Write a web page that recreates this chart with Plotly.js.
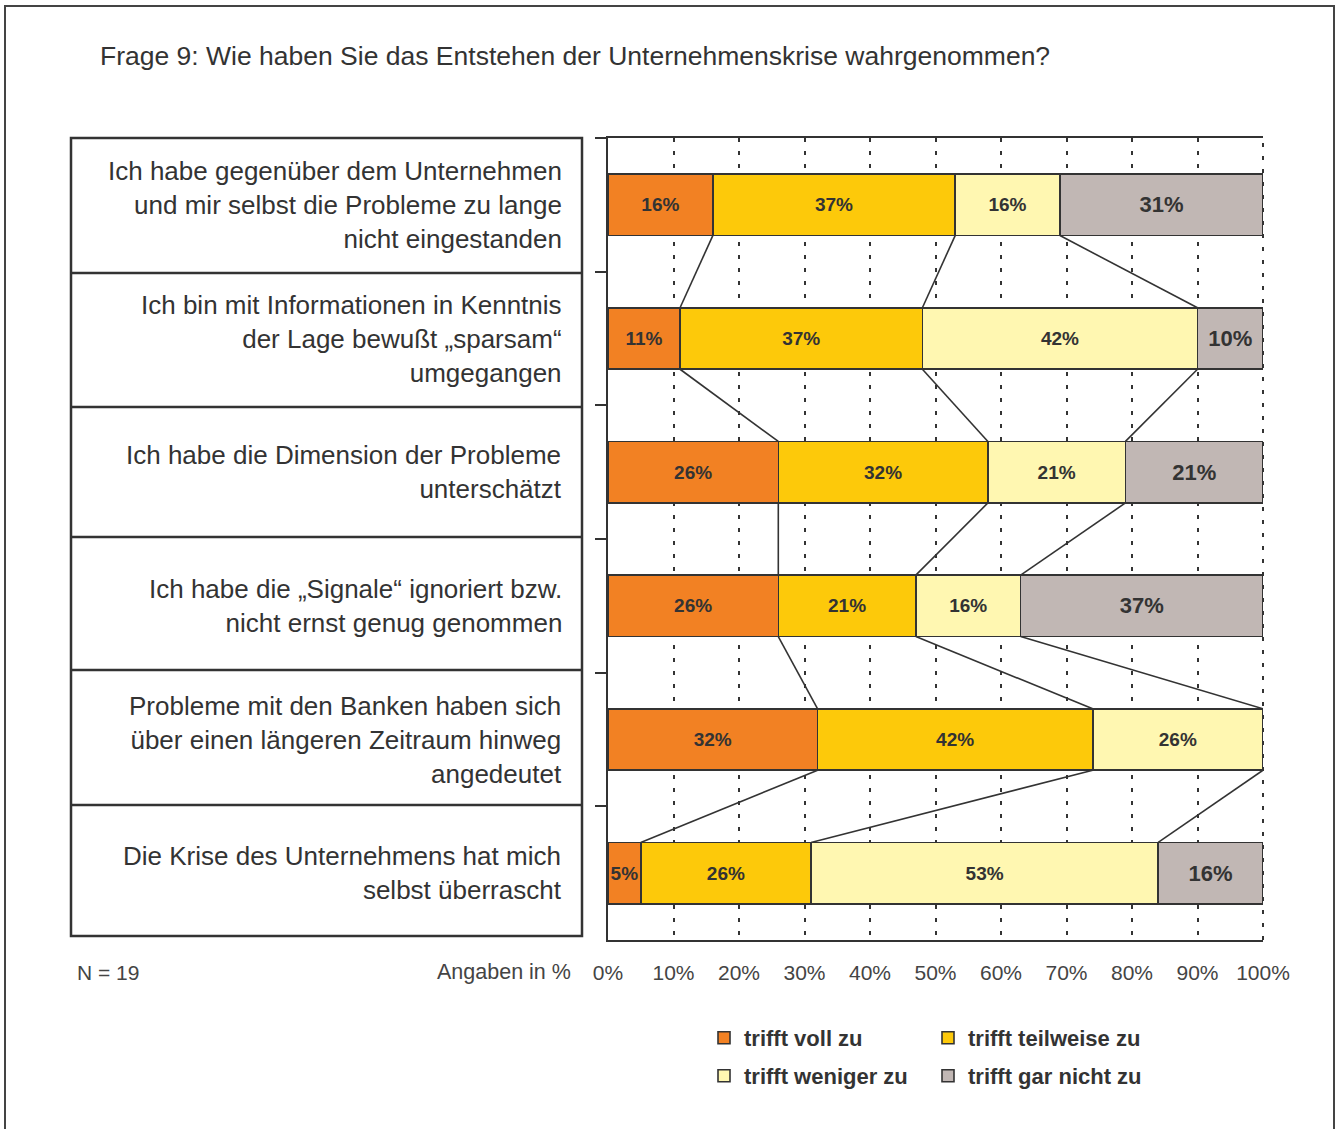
<!DOCTYPE html>
<html>
<head>
<meta charset="utf-8">
<script src="https://cdn.plot.ly/plotly-3.0.1.min.js"></script>
<style>html,body{margin:0;padding:0;background:#fff;}#chart{width:1337px;height:1129px;}</style>
</head>
<body>
<div id="chart"></div>
<script>
const categories = [
  "Ich habe gegenüber dem Unternehmen<br>und mir selbst die Probleme zu lange<br>nicht eingestanden",
  "Ich bin mit Informationen in Kenntnis<br>der Lage bewußt „sparsam“<br>umgegangen",
  "Ich habe die Dimension der Probleme<br>unterschätzt",
  "Ich habe die „Signale“ ignoriert bzw.<br>nicht ernst genug genommen",
  "Probleme mit den Banken haben sich<br>über einen längeren Zeitraum hinweg<br>angedeutet",
  "Die Krise des Unternehmens hat mich<br>selbst überrascht"
];
const seriesNames = ["trifft voll zu", "trifft teilweise zu", "trifft weniger zu", "trifft gar nicht zu"];
const trifftVollZu      = [16, 11, 26, 26, 32, 5];
const trifftTeilweiseZu = [37, 37, 32, 21, 42, 26];
const trifftWenigerZu   = [16, 42, 21, 16, 26, 53];
const trifftGarNichtZu  = [31, 10, 21, 37, null, 16];
const xTickVals = [0, 10, 20, 30, 40, 50, 60, 70, 80, 90, 100];
const titleText = "Frage 9: Wie haben Sie das Entstehen der Unternehmenskrise wahrgenommen?";
const noteN = "N = 19";
const noteUnit = "Angaben in %";

const series = [trifftVollZu, trifftTeilweiseZu, trifftWenigerZu, trifftGarNichtZu];
const colors = ["#F28123", "#FDC90A", "#FFF7B1", "#C1B7B4"];
const ink = "#333333";
const sans = "'Liberation Sans', Arial, Helvetica, sans-serif";

// plot area in pixels
const W = 1337, H = 1129;
const L = 608, R = 1263, T = 138, B = 940;
const px = x => (x - L) / (R - L);
const py = y => (B - y) / (B - T);

const barWidth = 0.46;

const traces = series.map((vals, k) => ({
  type: "bar",
  orientation: "h",
  name: seriesNames[k],
  y: categories,
  x: vals,
  width: barWidth,
  marker: {color: colors[k], line: {color: ink, width: 1.6}},
  text: vals.map(v => v == null ? "" : v + "%"),
  textposition: "inside",
  insidetextanchor: "middle",
  textangle: 0,
  constraintext: "none",
  textfont: k === 3
    ? {family: sans, size: 22, color: ink, weight: 700}
    : {family: sans, size: 19, color: ink, weight: 700},
  hoverinfo: "skip",
  legend: k < 2 ? "legend" : "legend2",
  showlegend: true
}));

// series lines between cumulative boundaries of successive bars
const cum = categories.map((_, i) => {
  let s = 0;
  return series.map(vals => (s += (vals[i] || 0)));
});
const shapes = [];
for (let i = 0; i < categories.length - 1; i++) {
  for (let k = 0; k < 3; k++) {
    shapes.push({
      type: "line", xref: "x", yref: "y", layer: "above",
      x0: cum[i][k], y0: i + barWidth / 2,
      x1: cum[i + 1][k], y1: i + 1 - barWidth / 2,
      line: {color: ink, width: 1.6}
    });
  }
}
// right edge dashed gridline at 100%
shapes.push({type: "line", xref: "paper", yref: "paper", layer: "above",
  x0: 1, x1: 1, y0: 0, y1: 1, line: {color: ink, width: 2, dash: "4px,9px"}});

// left label table
const rowEdges = [138, 273, 407, 537, 670, 805, 936];
shapes.push({type: "rect", xref: "paper", yref: "paper",
  x0: px(71), x1: px(582), y0: py(rowEdges[0]), y1: py(rowEdges[rowEdges.length - 1]),
  line: {color: ink, width: 2.5}});
for (let r = 1; r < rowEdges.length - 1; r++) {
  shapes.push({type: "line", xref: "paper", yref: "paper",
    x0: px(71), x1: px(582), y0: py(rowEdges[r]), y1: py(rowEdges[r]),
    line: {color: ink, width: 2.5}});
}
// outer frame
shapes.push({type: "rect", xref: "paper", yref: "paper",
  x0: px(5), x1: px(1334), y0: py(6), y1: py(1160),
  line: {color: "#444444", width: 2}});

const annotations = categories.map(c => ({
  xref: "paper", yref: "y", x: px(564), y: c,
  xanchor: "right", yanchor: "middle", align: "right",
  text: c, showarrow: false,
  font: {family: sans, size: 26, color: ink}
}));
annotations.push({xref: "paper", yref: "paper", x: px(75), y: py(972),
  xanchor: "left", yanchor: "middle", text: noteN, showarrow: false,
  font: {family: sans, size: 21, color: "#444"}});
annotations.push({xref: "paper", yref: "paper", x: px(573), y: py(972),
  xanchor: "right", yanchor: "middle", text: noteUnit, showarrow: false,
  font: {family: sans, size: 21.5, color: "#444"}});

const legendFont = {family: sans, size: 22, color: ink, weight: 700};
const layout = {
  width: W, height: H,
  paper_bgcolor: "#ffffff", plot_bgcolor: "#ffffff",
  margin: {l: L, r: W - R, t: T, b: H - B, pad: 0},
  barmode: "stack",
  title: {text: titleText, x: 100 / W, xanchor: "left", xref: "container",
    y: 1 - 56 / H, yanchor: "middle", font: {family: sans, size: 26.5, color: ink}},
  xaxis: {
    range: [0, 100], tickvals: xTickVals, ticktext: xTickVals.map(v => v + "%"),
    showgrid: true, gridcolor: ink, gridwidth: 2, griddash: "4px,9px",
    zeroline: false, showline: true, linecolor: ink, linewidth: 2, mirror: true,
    ticks: "", ticklabelstandoff: 13,
    tickfont: {family: sans, size: 21, color: "#444"}, fixedrange: true
  },
  yaxis: {
    type: "category", categoryorder: "array", categoryarray: categories,
    range: [categories.length - 0.5, -0.5],
    showticklabels: false, showgrid: false, zeroline: false,
    showline: true, linecolor: ink, linewidth: 2,
    ticks: "outside", tickson: "boundaries", ticklen: 11, tickwidth: 2, tickcolor: ink,
    fixedrange: true
  },
  legend: {orientation: "h", x: px(704), xanchor: "left", y: py(1017), yanchor: "top",
    entrywidth: 179, entrywidthmode: "pixels", traceorder: "normal",
    font: legendFont, bgcolor: "rgba(0,0,0,0)"},
  legend2: {orientation: "h", x: px(704), xanchor: "left", y: py(1055), yanchor: "top",
    entrywidth: 179, entrywidthmode: "pixels", traceorder: "normal",
    font: legendFont, bgcolor: "rgba(0,0,0,0)"},
  shapes: shapes,
  annotations: annotations,
  font: {family: sans, color: ink}
};

Plotly.newPlot("chart", traces, layout, {staticPlot: true, displayModeBar: false});
</script>
</body>
</html>
